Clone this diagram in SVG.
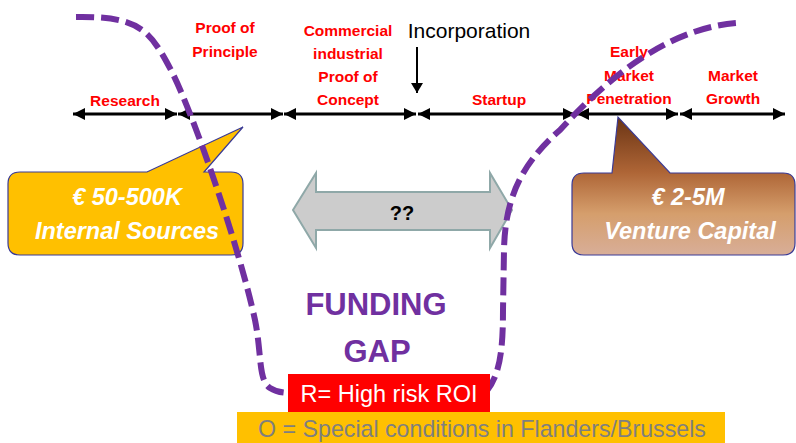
<svg xmlns="http://www.w3.org/2000/svg" width="796" height="443" viewBox="0 0 796 443">
<defs>
<marker id="ah" viewBox="0 0 12 12" refX="12" refY="6" markerWidth="12" markerHeight="12" markerUnits="userSpaceOnUse" orient="auto-start-reverse">
<path d="M0,0 L12,6 L0,12 z" fill="#000"/>
</marker>
<marker id="ah2" viewBox="0 0 10 12" refX="10" refY="6" markerWidth="10" markerHeight="12" markerUnits="userSpaceOnUse" orient="auto">
<path d="M0,0 L10,6 L0,12 z" fill="#000"/>
</marker>
<linearGradient id="brown" gradientUnits="userSpaceOnUse" x1="0" y1="117" x2="0" y2="255">
<stop offset="0" stop-color="#6A3414"/>
<stop offset="0.4" stop-color="#AE6536"/>
<stop offset="0.7" stop-color="#D59E6C"/>
<stop offset="1" stop-color="#D8AE98"/>
</linearGradient>
</defs>
<style>
.stage{font-family:"Liberation Sans",Arial,sans-serif;font-weight:bold;font-size:15.5px;fill:#FF0000;text-anchor:middle}
.tl{stroke:#000;stroke-width:3;fill:none;marker-start:url(#ah);marker-end:url(#ah)}
.gap{fill:none;stroke:#7030A0;stroke-width:6;stroke-dasharray:18 7}
.call{stroke:#3A3A96;stroke-width:1.2}
.ctext{font-family:"Liberation Sans",Arial,sans-serif;font-weight:bold;font-style:italic;font-size:23.5px;fill:#fff;text-anchor:middle}
</style>
<rect width="796" height="443" fill="#fff"/>

<g id="connectors">
<line class="tl" x1="73" y1="114" x2="177" y2="114"/>
<line class="tl" x1="178" y1="114" x2="283" y2="114"/>
<line class="tl" x1="284" y1="114" x2="416" y2="114"/>
<line class="tl" x1="418" y1="114" x2="575" y2="114"/>
<line class="tl" x1="577" y1="114" x2="678" y2="114"/>
<line class="tl" x1="680" y1="114" x2="785" y2="114"/>
<line x1="417" y1="47" x2="417" y2="93" stroke="#000" stroke-width="2" marker-end="url(#ah2)"/>
</g>

<g id="labels">
<text class="stage" x="125" y="106">Research</text>
<text class="stage" x="225" y="33">Proof of</text>
<text class="stage" x="225" y="57">Principle</text>
<text class="stage" x="348" y="36">Commercial</text>
<text class="stage" x="348" y="59">industrial</text>
<text class="stage" x="348" y="82">Proof of</text>
<text class="stage" x="348" y="105">Concept</text>
<text class="stage" x="499" y="105">Startup</text>
<text class="stage" x="629" y="57">Early</text>
<text class="stage" x="629" y="81">Market</text>
<text class="stage" x="629" y="104">Penetration</text>
<text class="stage" x="733" y="81">Market</text>
<text class="stage" x="733" y="104">Growth</text>
<text x="469" y="38" font-family="'Liberation Sans',Arial,sans-serif" font-size="21" fill="#000" text-anchor="middle">Incorporation</text>
</g>

<g id="internal">
<path class="call" fill="#FFC000" d="M20,172 L147,172 L243,127 L204,172 L231,172 Q243,172 243,184 L243,243 Q243,255 231,255 L20,255 Q8,255 8,243 L8,184 Q8,172 20,172 Z"/>
<text class="ctext" x="127" y="205">€ 50-500K</text>
<text class="ctext" x="127" y="239">Internal Sources</text>
</g>

<g id="venture">
<path class="call" fill="url(#brown)" d="M584,173 L612,173 L618,117 L670,173 L783,173 Q795,173 795,185 L795,243 Q795,255 783,255 L584,255 Q572,255 572,243 L572,185 Q572,173 584,173 Z"/>
<text class="ctext" x="688" y="205">€ 2-5M</text>
<text class="ctext" x="690" y="239">Venture Capital</text>
</g>

<g id="unknown">
<path d="M293,210 L316,173 L316,192 L490,192 L490,173 L512,210 L490,248 L490,230 L316,230 L316,248 Z" fill="#CCCCCC" stroke="#8FA8A8" stroke-width="2"/>
<text x="402" y="220" font-family="'Liberation Sans',Arial,sans-serif" font-weight="bold" font-size="20" fill="#000" text-anchor="middle">??</text>
</g>

<g id="funding-gap">
<text x="376" y="315" font-family="'Liberation Sans',Arial,sans-serif" font-weight="bold" font-size="31" fill="#7030A0" text-anchor="middle">FUNDING</text>
<text x="377" y="362" font-family="'Liberation Sans',Arial,sans-serif" font-weight="bold" font-size="31" fill="#7030A0" text-anchor="middle">GAP</text>
</g>

<g id="gap-curves">
<path class="gap" d="M76,17 C140,16 150,30 172,72 C195,118 240,250 255,320 C262,355 258,380 270,388 C276,392 283,393 292,393"/>
<path class="gap" d="M486,392 C500,375 503,350 503,310 L504,250 C505,200 520,165 560,130 C610,75 670,28 737,23"/>
</g>

<g id="risk">
<rect x="288" y="374" width="202" height="38" fill="#FF0000"/>
<text x="389" y="402" font-family="'Liberation Sans',Arial,sans-serif" font-size="23.5" fill="#fff" text-anchor="middle">R= High risk ROI</text>
</g>

<g id="conditions">
<rect x="237" y="412" width="488" height="31" fill="#FFC000"/>
<text x="482" y="437" font-family="'Liberation Sans',Arial,sans-serif" font-size="23.2" fill="#7F7F7F" text-anchor="middle">O = Special conditions in Flanders/Brussels</text>
</g>
</svg>
